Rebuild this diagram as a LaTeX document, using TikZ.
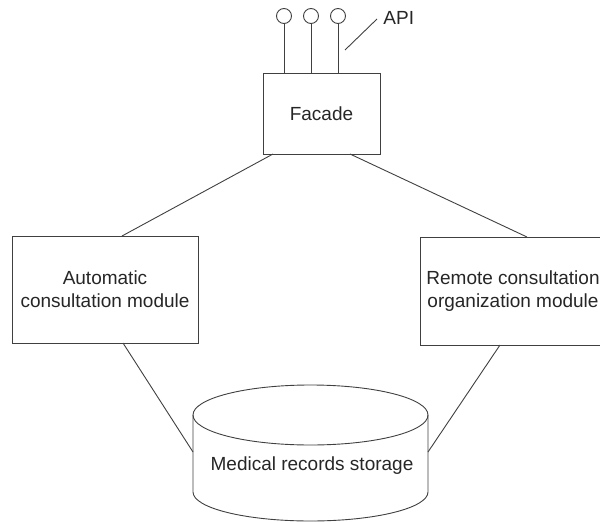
\documentclass[tikz,border=0pt]{standalone}
\usepackage{fontspec}
\setmainfont{Liberation Sans}
\begin{document}
\begin{tikzpicture}[x=1pt,y=-1pt,line width=0.9pt,color=black!75,
  box/.style={draw,inner sep=0pt,align=center,font=\fontsize{19}{23}\selectfont,text=black!85},
  pin/.style={circle,draw,minimum size=15pt,inner sep=0pt},
  lbl/.style={inner sep=0pt,font=\fontsize{19}{23}\selectfont,text=black!85}]
\useasboundingbox (0,0) rectangle (600,522);
\clip (0,0) rectangle (600,522);
% Facade
\node[box,minimum width=117pt,minimum height=81pt] (facade) at (321.5,113.5) {Facade};
% pins
\node[pin] (p1) at (284,16) {};
\node[pin] (p2) at (311,16) {};
\node[pin] (p3) at (338,16) {};
\draw (p1.south) -- (p1.south |- facade.north);
\draw (p2.south) -- (p2.south |- facade.north);
\draw (p3.south) -- (p3.south |- facade.north);
\node[lbl,anchor=west] (api) at (383,18) {API};
\coordinate (apiA) at (345,50);
\coordinate (apiB) at (377,19);
\draw (apiA) -- (apiB);
% modules
\node[box,minimum width=186pt,minimum height=107pt] (auto) at (105,289.5) {Automatic\\consultation module};
\node[box,minimum width=186pt,minimum height=108pt] (remote) at (513,291) {Remote consultation\\organization module};
% cylinder
\draw (310.5,415) ellipse [x radius=117.5, y radius=30];
\draw (193,415) -- (193,492) arc[start angle=180,end angle=0,x radius=117.5,y radius=29] -- (428,415);
\node[lbl] (db) at (312,466) {Medical records storage};
\coordinate (dbL) at (193,452);
\coordinate (dbR) at (428,452);
% connectors
\coordinate (fL) at (273,154);
\coordinate (fR) at (350,154);
\coordinate (aT) at (122,236);
\coordinate (rT) at (527,237);
\coordinate (aB) at (123,343);
\coordinate (rB) at (500,345);
\draw (fL) -- (aT);
\draw (fR) -- (rT);
\draw (aB) -- (dbL);
\draw (rB) -- (dbR);
\end{tikzpicture}
\end{document}
